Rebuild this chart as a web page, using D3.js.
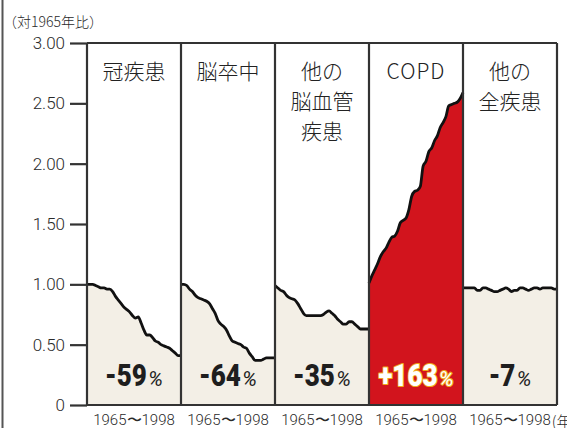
<!DOCTYPE html>
<html><head><meta charset="utf-8">
<script src="https://cdn.jsdelivr.net/npm/d3@7/dist/d3.min.js"></script>
<style>
html,body{margin:0;padding:0;background:#fff;}
svg{display:block;}
</style></head>
<body><svg id="c" width="567" height="428"></svg>
<script>
const categories = ["冠疾患","脳卒中","他の脳血管疾患","COPD","他の全疾患"];
const titleLines = [["冠疾患"],["脳卒中"],["他の","脳血管","疾患"],["COPD"],["他の","全疾患"]];
const changeLabels = ["-59","-64","-35","+163","-7"];
const years = [1965,1966,1967,1968,1969,1970,1971,1972,1973,1974,1975,1976,1977,1978,1979,1980,1981,1982,1983,1984,1985,1986,1987,1988,1989,1990,1991,1992,1993,1994,1995,1996,1997,1998];
const coronary = [1.00,1.00,1.00,0.99,0.98,0.97,0.97,0.96,0.96,0.94,0.90,0.87,0.84,0.81,0.79,0.77,0.74,0.72,0.73,0.68,0.62,0.58,0.58,0.56,0.53,0.52,0.50,0.49,0.48,0.47,0.45,0.43,0.41,0.41];
const stroke = [1.00,1.00,0.99,0.96,0.94,0.91,0.89,0.88,0.87,0.86,0.84,0.80,0.76,0.70,0.67,0.65,0.62,0.57,0.53,0.52,0.51,0.50,0.48,0.47,0.43,0.40,0.37,0.37,0.37,0.38,0.39,0.39,0.39,0.39];
const otherCerebro = [0.99,0.97,0.95,0.94,0.91,0.89,0.88,0.87,0.84,0.80,0.76,0.74,0.74,0.74,0.74,0.74,0.74,0.75,0.77,0.78,0.76,0.74,0.71,0.69,0.67,0.67,0.69,0.69,0.67,0.65,0.63,0.63,0.63,0.63];
const copd = [1.01,1.07,1.12,1.17,1.23,1.27,1.30,1.35,1.39,1.40,1.44,1.51,1.53,1.55,1.62,1.73,1.77,1.78,1.81,1.98,2.02,2.10,2.13,2.19,2.23,2.30,2.34,2.39,2.48,2.49,2.50,2.51,2.54,2.59];
const allOther = [0.97,0.97,0.97,0.97,0.97,0.95,0.95,0.97,0.97,0.96,0.95,0.94,0.94,0.95,0.96,0.97,0.96,0.94,0.95,0.95,0.97,0.97,0.96,0.95,0.96,0.97,0.97,0.96,0.97,0.97,0.97,0.97,0.96,0.96];
const seriesValues = [coronary, stroke, otherCerebro, copd, allOther];
const yTicks = [0,0.5,1,1.5,2,2.5,3];
const yTickLabels = ["0","0.50","1.00","1.50","2.00","2.50","3.00"];
const yTitle = "（対1965年比）";
const periodLabel = "1965〜1998";
const unitLabel = "(年";
const highlight = "COPD";

const svg = d3.select("#c");
const x = d3.scaleBand().domain(categories).range([87,557]).padding(0);
const y = d3.scaleLinear().domain([0,3]).range([405,43]);
const ink = "#2a2a2a";
const cjk = "'Noto Sans CJK JP','Noto Sans',sans-serif";

// left page border
svg.append("line").attr("x1",2.5).attr("x2",2.5).attr("y1",0).attr("y2",428)
  .attr("stroke","#555").attr("stroke-width",2);

// y title
svg.append("text").attr("x",3).attr("y",21).attr("dominant-baseline","central")
  .attr("font-family",cjk).attr("font-size",14).attr("font-weight",300).attr("fill",ink).text(yTitle);

// panels
categories.forEach((c,i)=>{
  const x0 = x(c), bw = x.bandwidth();
  const xs = d3.scaleLinear().domain([years[0], years[years.length-1]]).range([x0, x0+bw]);
  const data = years.map((yr,k)=>({yr, v: seriesValues[i][k]}));
  const isHi = c===highlight;
  const area = d3.area().x(d=>xs(d.yr)).y0(y(0)).y1(d=>y(d.v)).curve(d3.curveMonotoneX);
  const line = d3.line().x(d=>xs(d.yr)).y(d=>y(d.v)).curve(d3.curveMonotoneX);
  const g = svg.append("g");
  g.append("path").datum(data).attr("d",area).attr("fill", isHi ? "#d2141d" : "#f3efe6");
  g.append("path").datum(data).attr("d",line).attr("fill","none").attr("stroke","#111")
    .attr("stroke-width",2.8).attr("stroke-linejoin","round");

  // title
  const lines = titleLines[i];
  lines.forEach((t,j)=>{
    g.append("text").attr("x",x0+bw/2).attr("y",70+j*30).attr("text-anchor","middle")
      .attr("dominant-baseline","central").attr("font-family",cjk)
      .attr("font-size",21).attr("font-weight",300).attr("fill","#222")
      .attr("letter-spacing", t==="COPD"?1:0).text(t);
  });

  // percent label
  const lg = g.append("g");
  const num = lg.append("text").attr("x",0).attr("y",0)
    .attr("font-family","Roboto,'Liberation Sans',sans-serif").attr("font-weight",900)
    .attr("font-size",31).attr("text-anchor","start").text(changeLabels[i]);
  const pct = lg.append("text").attr("y",0)
    .attr("font-family","Roboto,'Liberation Sans',sans-serif").attr("font-style","italic")
    .attr("font-weight",400).attr("font-size",21).attr("text-anchor","start").text("%");
  const sx = 0.84;
  const nw = num.node().getComputedTextLength()*sx;
  num.attr("transform",`scale(${sx},1)`);
  pct.attr("x", nw+1);
  const pw = pct.node().getComputedTextLength();
  const total = nw+1+pw;
  lg.attr("transform",`translate(${x0+bw/2-total/2},386)`);
  if(isHi){
    [num,pct].forEach(t=>t.attr("fill","#fff").attr("stroke","#f0a81a").attr("stroke-width",2.2)
      .attr("paint-order","stroke").attr("stroke-linejoin","round"));
  } else {
    [num,pct].forEach(t=>t.attr("fill","#1e1e1e"));
  }

  // period label
  const pl = svg.append("text").attr("x",x0+bw/2).attr("y",420).attr("text-anchor","middle")
    .attr("dominant-baseline","central").attr("font-family","Roboto,'Noto Sans',sans-serif")
    .attr("font-size",15).attr("font-weight",300).attr("fill",ink)
    .text(periodLabel);
  if(i===categories.length-1){
    const bb = pl.node().getBBox();
    svg.append("text").attr("x",bb.x+bb.width+1).attr("y",420)
      .attr("dominant-baseline","central").attr("font-family",cjk)
      .attr("font-size",15).attr("font-weight",300).attr("fill",ink).text(unitLabel);
  }
});

// panel frames
const frame = svg.append("g").attr("stroke","#333").attr("stroke-width",2.2).attr("fill","none");
categories.forEach(c=>{
  frame.append("line").attr("x1",x(c)).attr("x2",x(c)).attr("y1",y(3)).attr("y2",y(0));
});
frame.append("line").attr("x1",x.range()[1]).attr("x2",x.range()[1]).attr("y1",y(3)).attr("y2",y(0));
frame.append("line").attr("x1",x.range()[0]).attr("x2",x.range()[1]).attr("y1",y(3)).attr("y2",y(3));
frame.append("line").attr("x1",x.range()[0]).attr("x2",x.range()[1]).attr("y1",y(0)).attr("y2",y(0));

// y axis
const ax = svg.append("g").attr("transform",`translate(${x.range()[0]},0)`)
  .call(d3.axisLeft(y).tickValues(yTicks).tickFormat((d,k)=>yTickLabels[k]).tickSize(17).tickPadding(5));
ax.select(".domain").remove();
ax.selectAll(".tick line").attr("stroke","#333").attr("stroke-width",2.2);
ax.selectAll(".tick text").attr("font-family","Roboto,'Noto Sans',sans-serif").attr("font-size",17)
  .attr("font-weight",300).attr("fill",ink);
</script></body></html>
